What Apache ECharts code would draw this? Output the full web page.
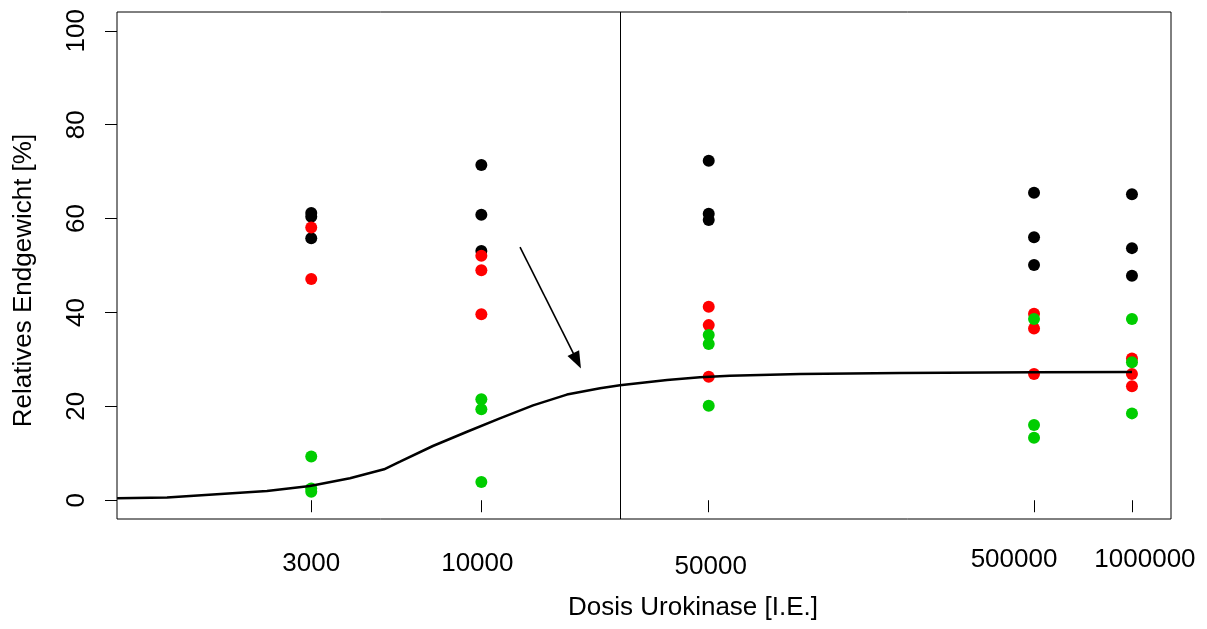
<!DOCTYPE html>
<html>
<head>
<meta charset="utf-8">
<title>Relatives Endgewicht - Dosis Urokinase</title>
<script src="https://cdn.jsdelivr.net/npm/echarts@6/dist/echarts.min.js"></script>
<style>
    html, body { margin: 0; padding: 0; background: #fff; }
    #dose_scatter { width: 1207px; height: 629px; }
</style>
</head>
<body>
<div id="dose_scatter"></div>
<script>

// Data
// ------------------------------

var doses = [3000, 10000, 50000, 500000, 1000000];
var doseLabels = ['3000', '10000', '50000', '500000', '1000000'];

// one list per dose, same order as doses
var blackValues = [[61.2, 60.4, 55.8], [71.4, 60.8, 53.1], [72.3, 61.0, 59.7], [65.5, 56.0, 50.1], [65.2, 53.7, 47.8]];
var redValues = [[58.1, 47.1], [52.1, 49.0, 39.6], [41.2, 37.3, 26.3], [39.7, 36.6, 26.9], [30.2, 26.9, 24.3]];
var greenValues = [[9.3, 2.5, 1.8], [21.5, 19.4, 3.9], [35.2, 33.3, 20.1], [38.6, 16.0, 13.3], [38.6, 29.4, 18.5]];

// fitted curve
var curveDoses = [759, 1081, 1538, 2193, 2972, 3945, 5023, 5623, 7096, 9036, 11400, 14420, 18320, 23170, 26670, 37240, 46990, 58080, 95500, 193600, 501000, 1000000];
var curveValues = [0.40, 0.58, 1.26, 1.96, 3.03, 4.67, 6.58, 8.2, 11.55, 14.59, 17.45, 20.2, 22.5, 23.84, 24.48, 25.61, 26.18, 26.52, 26.9, 27.1, 27.25, 27.3];

var yTicks = [0, 20, 40, 60, 80, 100];

// annotations
var cutoffDose = 26700;
var arrowFrom = [13150, 53.9];
var arrowTo = [19700, 29.7];


// Setup module
// ------------------------------

var DoseScatter = function() {

    var lg = function(v) { return Math.log10(v); };

    var toPoints = function(groups) {
        var pts = [];
        groups.forEach(function(vals, i) {
            vals.forEach(function(v) { pts.push([lg(doses[i]), v]); });
        });
        return pts;
    };

    var _doseScatter = function() {
        if (typeof echarts == 'undefined') {
            console.warn('Warning - echarts.min.js is not loaded.');
            return;
        }

        // Define element
        var scatter_element = document.getElementById('dose_scatter');
        if (!scatter_element) return;

        var font = "'Liberation Sans', Arial, sans-serif";

        // label nudges (dx, dy) as in the original figure
        var nudges = [[0, 4], [-4, 4], [2, 7], [-20, 0], [13, 0]];
        var rich = {};
        nudges.forEach(function(n, i) {
            rich['s' + i] = {
                fontSize: 26,
                fontFamily: font,
                color: '#000',
                padding: [n[1], n[0] < 0 ? -2 * n[0] : 0, 0, n[0] > 0 ? 2 * n[0] : 0]
            };
        });

        var curve = curveDoses.map(function(d, i) { return [lg(d), curveValues[i]]; });

        var scatter_chart = echarts.init(scatter_element, null, {renderer: 'canvas'});

        scatter_chart.setOption({
            animation: false,
            backgroundColor: '#fff',
            textStyle: {
                fontFamily: font,
                fontSize: 26,
                color: '#000'
            },

            grid: {
                left: 117,
                right: 36,
                top: 12,
                bottom: 110,
                show: true,
                borderColor: '#000',
                borderWidth: 1
            },

            xAxis: {
                type: 'value',
                min: 2.88,
                max: 6.12,
                name: 'Dosis Urokinase [I.E.]',
                nameLocation: 'middle',
                nameGap: 76,
                nameTextStyle: {
                    fontSize: 26,
                    color: '#000',
                    padding: [0, 0, 0, 98]
                },
                axisLine: {show: false},
                splitLine: {show: false},
                axisTick: {
                    show: true,
                    length: 12,
                    customValues: doses.map(lg),
                    lineStyle: {color: '#000', width: 1}
                },
                axisLabel: {
                    margin: 28,
                    fontSize: 26,
                    color: '#000',
                    customValues: doses.map(lg),
                    formatter: function(v) {
                        var i = doses.indexOf(Math.round(Math.pow(10, v)));
                        return '{s' + i + '|' + doseLabels[i] + '}';
                    },
                    rich: rich
                }
            },

            yAxis: {
                type: 'value',
                min: -4,
                max: 104,
                name: 'Relatives Endgewicht [%]',
                nameLocation: 'middle',
                nameGap: 80,
                nameTextStyle: {
                    fontSize: 26,
                    color: '#000',
                    padding: [0, 30, 0, 0]
                },
                axisLine: {show: false},
                splitLine: {show: false},
                axisTick: {
                    show: true,
                    length: 12,
                    customValues: yTicks,
                    lineStyle: {color: '#000', width: 1}
                },
                axisLabel: {
                    rotate: 90,
                    margin: 27,
                    fontSize: 26,
                    color: '#000',
                    customValues: yTicks
                }
            },

            series: [{
                name: 'schwarz',
                type: 'scatter',
                symbolSize: 12,
                itemStyle: {color: '#000', opacity: 1},
                data: toPoints(blackValues)
            }, {
                name: 'rot',
                type: 'scatter',
                symbolSize: 12,
                itemStyle: {color: '#ff0000', opacity: 1},
                data: toPoints(redValues)
            }, {
                name: 'gruen',
                type: 'scatter',
                symbolSize: 12,
                itemStyle: {color: '#00cd00', opacity: 1},
                data: toPoints(greenValues)
            }, {
                name: 'Kurve',
                type: 'line',
                showSymbol: false,
                symbol: 'none',
                clip: true,
                lineStyle: {color: '#000', width: 2.5},
                data: curve,
                markLine: {
                    silent: true,
                    animation: false,
                    label: {show: false},
                    lineStyle: {color: '#000', width: 1, type: 'solid'},
                    data: [
                        [{coord: [lg(cutoffDose), -4], symbol: 'none'}, {coord: [lg(cutoffDose), 104], symbol: 'none'}],
                        [{coord: [lg(arrowFrom[0]), arrowFrom[1]], symbol: 'none'},
                         {coord: [lg(arrowTo[0]), arrowTo[1]], symbol: 'triangle', symbolSize: [13, 17], lineStyle: {width: 1.6}}]
                    ]
                }
            }]
        });
    };

    return {
        init: function() {
            _doseScatter();
        }
    };
}();


// Initialize module
// ------------------------------

document.addEventListener('DOMContentLoaded', function() {
    DoseScatter.init();
});
</script>
</body>
</html>
